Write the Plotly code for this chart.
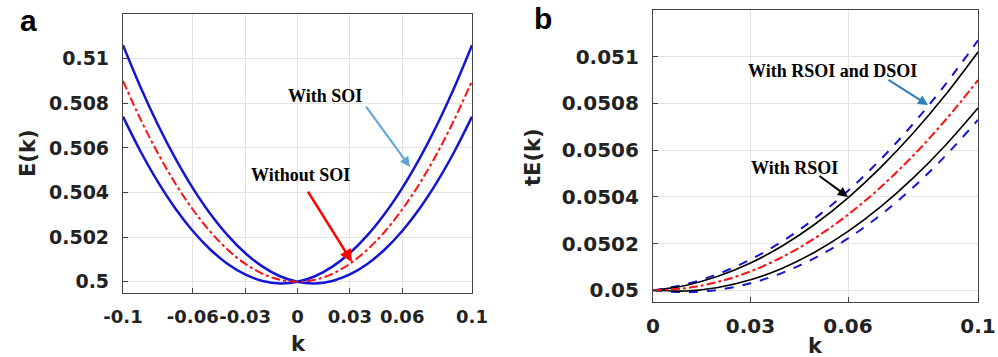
import plotly.graph_objects as go

# ---- panel a data ----
k_a = [-0.1, -0.09, -0.08, -0.07, -0.06, -0.05, -0.04, -0.03, -0.02, -0.01, 0.0,
       0.01, 0.02, 0.03, 0.04, 0.05, 0.06, 0.07, 0.08, 0.09, 0.1]
E_no_soi = [0.509, 0.50729, 0.50576, 0.50441, 0.50324, 0.50225, 0.50144, 0.50081, 0.50036, 0.50009, 0.5,
            0.50009, 0.50036, 0.50081, 0.50144, 0.50225, 0.50324, 0.50441, 0.50576, 0.50729, 0.509]
E_soi_1 = [0.5074, 0.50585, 0.50448, 0.50329, 0.50228, 0.50145, 0.5008, 0.50033, 0.50004, 0.49993, 0.5,
           0.50025, 0.50068, 0.50129, 0.50208, 0.50305, 0.5042, 0.50553, 0.50704, 0.50873, 0.5106]
E_soi_2 = [0.5106, 0.50873, 0.50704, 0.50553, 0.5042, 0.50305, 0.50208, 0.50129, 0.50068, 0.50025, 0.5,
           0.49993, 0.50004, 0.50033, 0.5008, 0.50145, 0.50228, 0.50329, 0.50448, 0.50585, 0.5074]
ticks_a_x = [-0.1, -0.06, -0.03, 0, 0.03, 0.06, 0.1]
ticks_a_x_text = ["-0.1", "-0.06", "-0.03", "0", "0.03", "0.06", "0.1"]
ticks_a_y = [0.5, 0.502, 0.504, 0.506, 0.508, 0.51]
ticks_a_y_text = ["0.5", "0.502", "0.504", "0.506", "0.508", "0.51"]

# ---- panel b data ----
k_b = [0.0, 0.01, 0.02, 0.03, 0.04, 0.05, 0.06, 0.07, 0.08, 0.09, 0.1]
tE_none = [0.05, 0.050009, 0.050036, 0.050081, 0.050144, 0.050225, 0.050324, 0.050441, 0.050576, 0.050729, 0.0509]
tE_r_up = [0.05, 0.050021, 0.05006, 0.050117, 0.050192, 0.050285, 0.050396, 0.050525, 0.050672, 0.050837, 0.05102]
tE_r_lo = [0.05, 0.049997, 0.050012, 0.050045, 0.050096, 0.050165, 0.050252, 0.050357, 0.05048, 0.050621, 0.05078]
tE_rd_up = [0.05, 0.050026, 0.05007, 0.050132, 0.050212, 0.05031, 0.050426, 0.05056, 0.050712, 0.050882, 0.05107]
tE_rd_lo = [0.05, 0.049992, 0.050002, 0.05003, 0.050076, 0.05014, 0.050222, 0.050322, 0.05044, 0.050576, 0.05073]
ticks_b_x = [0, 0.03, 0.06, 0.1]
ticks_b_x_text = ["0", "0.03", "0.06", "0.1"]
ticks_b_y = [0.05, 0.0502, 0.0504, 0.0506, 0.0508, 0.051]
ticks_b_y_text = ["0.05", "0.0502", "0.0504", "0.0506", "0.0508", "0.051"]

W, H = 998, 357
BLUE = "#1414d6"
RED = "#ff1010"

fig = go.Figure()
sp = dict(shape="spline", smoothing=1.0)
fig.add_trace(go.Scatter(x=k_a, y=E_soi_1, mode="lines", line=dict(color=BLUE, width=2.5, **sp), xaxis="x", yaxis="y"))
fig.add_trace(go.Scatter(x=k_a, y=E_soi_2, mode="lines", line=dict(color=BLUE, width=2.5, **sp), xaxis="x", yaxis="y"))
fig.add_trace(go.Scatter(x=k_a, y=E_no_soi, mode="lines", line=dict(color=RED, width=2, dash="dashdot", **sp), xaxis="x", yaxis="y"))

fig.add_trace(go.Scatter(x=k_b, y=tE_rd_up, mode="lines", line=dict(color=BLUE, width=2, dash="dash", **sp), xaxis="x2", yaxis="y2"))
fig.add_trace(go.Scatter(x=k_b, y=tE_rd_lo, mode="lines", line=dict(color=BLUE, width=2, dash="dash", **sp), xaxis="x2", yaxis="y2"))
fig.add_trace(go.Scatter(x=k_b, y=tE_r_up, mode="lines", line=dict(color="black", width=1.6, **sp), xaxis="x2", yaxis="y2"))
fig.add_trace(go.Scatter(x=k_b, y=tE_r_lo, mode="lines", line=dict(color="black", width=1.6, **sp), xaxis="x2", yaxis="y2"))
fig.add_trace(go.Scatter(x=k_b, y=tE_none, mode="lines", line=dict(color=RED, width=2, dash="dashdot", **sp), xaxis="x2", yaxis="y2"))

SANS = "DejaVu Sans, Liberation Sans, Arial"
def tf(size):
    return dict(family=SANS, size=size, color="#222222", weight="bold")
ax_common = dict(showline=True, mirror=True, linecolor="#444444", linewidth=1.2,
                 ticks="inside", ticklen=5, tickcolor="#444444",
                 showgrid=True, gridcolor="#e3e3e3", gridwidth=1, zeroline=False,
                 tickmode="array", automargin=False, tickangle=0)

fig.update_layout(
    width=W, height=H, margin=dict(l=0, r=0, t=0, b=0),
    paper_bgcolor="white", plot_bgcolor="white", showlegend=False,
    xaxis=dict(domain=[123 / W, 472 / W], range=[-0.1, 0.1], anchor="y", tickfont=tf(18),
               tickvals=ticks_a_x, ticktext=ticks_a_x_text, ticklabelstandoff=7, **ax_common),
    yaxis=dict(domain=[(H - 293) / H, (H - 14) / H], range=[0.4995, 0.512], anchor="x", tickfont=tf(19),
               tickvals=ticks_a_y, ticktext=ticks_a_y_text, ticklabelstandoff=9, **ax_common),
    xaxis2=dict(domain=[653 / W, 978 / W], range=[0, 0.1], anchor="y2", tickfont=tf(20),
                tickvals=ticks_b_x, ticktext=ticks_b_x_text, ticklabelstandoff=6, **ax_common),
    yaxis2=dict(domain=[(H - 302) / H, (H - 10) / H], range=[0.04995, 0.0512], anchor="x2", tickfont=tf(20),
                tickvals=ticks_b_y, ticktext=ticks_b_y_text, ticklabelstandoff=9, **ax_common),
)

titlefont = dict(family=SANS, size=21, color="#222222", weight="bold")
labfont = dict(family="Liberation Sans, Arial", size=30, color="black", weight="bold")
notefont = dict(family="Liberation Serif, Times New Roman", size=18, color="black", weight="bold")

def pann(text, px, py, font, angle=0):
    return dict(text=text, x=px / W, y=1 - py / H, xref="paper", yref="paper", showarrow=False,
                xanchor="center", yanchor="middle", textangle=angle, font=font)

anns = [
    pann("a", 28, 20, labfont),
    pann("b", 543, 18, labfont),
    pann("E(k)", 28, 153, titlefont, -90),
    pann("tE(k)", 533, 157, titlefont, -90),
    pann("k", 298, 344, titlefont),
    pann("k", 815, 346, titlefont),
    # panel a notes
    dict(text="With SOI", x=0.01576, y=0.50833, xref="x", yref="y", showarrow=False, font=notefont),
    dict(text="", x=0.0645, y=0.50515, ax=0.03868, ay=0.50792, xref="x", yref="y", axref="x", ayref="y",
         showarrow=True, arrowhead=2, arrowsize=1, arrowwidth=2, arrowcolor="#5fa3d8"),
    dict(text="Without SOI", x=0.00143, y=0.50479, xref="x", yref="y", showarrow=False, font=notefont),
    dict(text="", x=0.03123, y=0.50089, ax=0.00544, ay=0.50411, xref="x", yref="y", axref="x", ayref="y",
         showarrow=True, arrowhead=2, arrowsize=1, arrowwidth=2.5, arrowcolor="#ff0000"),
    # panel b notes
    dict(text="With RSOI and DSOI", x=0.05538, y=0.050939, xref="x2", yref="y2", showarrow=False, font=notefont),
    dict(text="", x=0.08462, y=0.050793, ax=0.072, ay=0.050905, xref="x2", yref="y2", axref="x2", ayref="y2",
         showarrow=True, arrowhead=2, arrowsize=1, arrowwidth=2, arrowcolor="#2f7fb8"),
    dict(text="With RSOI", x=0.04369, y=0.050524, xref="x2", yref="y2", showarrow=False, font=notefont),
    dict(text="", x=0.06, y=0.0504, ax=0.05077, ay=0.050494, xref="x2", yref="y2", axref="x2", ayref="y2",
         showarrow=True, arrowhead=2, arrowsize=1, arrowwidth=2, arrowcolor="black"),
]
fig.update_layout(annotations=anns)

fig.write_html("out.html")
